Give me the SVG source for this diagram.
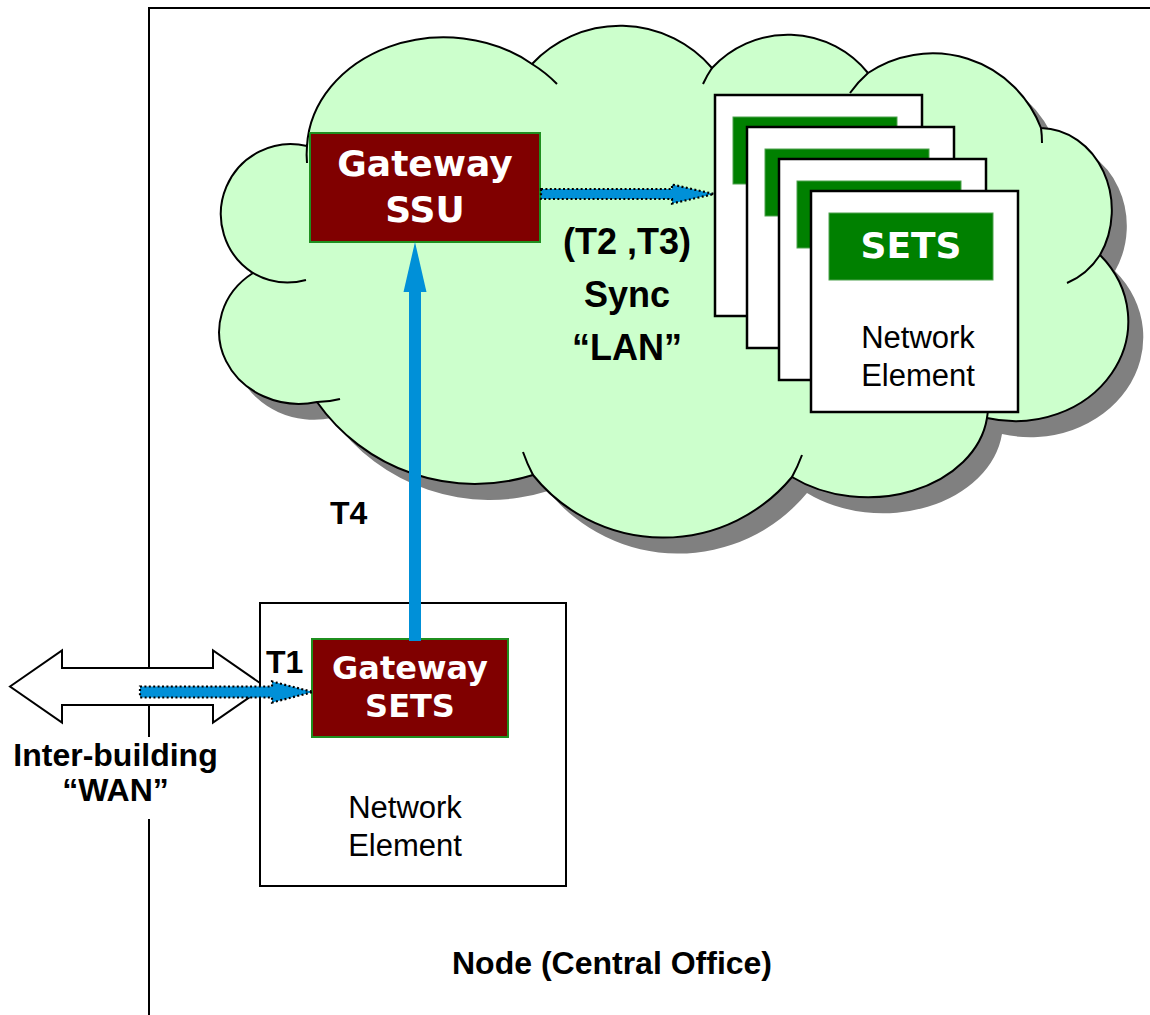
<svg xmlns="http://www.w3.org/2000/svg" width="1150" height="1015" viewBox="0 0 1150 1015">
  <defs>
    <style>
      .frame { fill: none; stroke: #000; stroke-width: 2; }
      .cloud { fill: #CCFFCC; stroke: #000; stroke-width: 2; }
      .cloud-shadow { fill: #808080; stroke: none; }
      .cloud-arc { fill: none; stroke: #000; stroke-width: 2; }
      .card { fill: #fff; stroke: #000; stroke-width: 2.5; }
      .sets-bar { fill: #008000; stroke: #4fa24f; stroke-width: 1; }
      .gw { fill: #800000; stroke: #1f8f1f; stroke-width: 2; }
      .ne-box { fill: #fff; stroke: #000; stroke-width: 2; }
      .flow { fill: #0090D8; stroke: #000; stroke-width: 2.2; stroke-dasharray: 2 2.4; }
      .solid-flow { fill: #0090D8; stroke: none; }
      .wan { fill: #fff; stroke: #000; stroke-width: 2; }
      .lbl { font-family: "Liberation Sans", Arial, sans-serif; font-weight: bold; fill: #000; }
      .boxtxt { font-family: "DejaVu Sans", Verdana, sans-serif; font-weight: bold; fill: #fff; text-anchor: middle; }
      .ne { font-family: "Liberation Sans", Arial, sans-serif; font-size: 31px; fill: #000; text-anchor: middle; }
    </style>
    <path id="cloudShape" d="M 253,273
      A 70 70 0 0 1 307,146
      A 137 114 0 0 1 532,64
      A 121 121 0 0 1 712,68
      A 103 103 0 0 1 868,73
      A 116 116 0 0 1 1041,128
      A 72 82 0 0 1 1100,255
      A 113 100 0 0 1 987,418
      A 120 90 0 0 1 792,477
      A 167 167 0 0 1 533,475
      A 193 193 0 0 1 317,402
      A 80 72 0 0 1 253,273 Z"/>
  </defs>

  <!-- node boundary (central office) -->
  <path class="frame" d="M149,1015 V8 H1150"/>

  <!-- sync LAN cloud -->
  <g id="lan-cloud">
    <use href="#cloudShape" class="cloud-shadow" transform="translate(15,16)"/>
    <use href="#cloudShape" class="cloud"/>
    <path class="cloud-arc" d="M253,273 A 70 70 0 0 0 306,280"/>
    <path class="cloud-arc" d="M307,146 A 137 114 0 0 0 307,163"/>
    <path class="cloud-arc" d="M532,64 A 137 114 0 0 1 557,84"/>
    <path class="cloud-arc" d="M712,68 A 103 103 0 0 0 703,84"/>
    <path class="cloud-arc" d="M868,73 A 116 116 0 0 0 850,93"/>
    <path class="cloud-arc" d="M1041,128 A 116 116 0 0 1 1042,143"/>
    <path class="cloud-arc" d="M1100,255 A 72 82 0 0 1 1067,283"/>
    <path class="cloud-arc" d="M987,418 A 120 90 0 0 0 988,408"/>
    <path class="cloud-arc" d="M792,477 A 167 167 0 0 0 802,455"/>
    <path class="cloud-arc" d="M533,475 A 167 167 0 0 1 523,452"/>
    <path class="cloud-arc" d="M317,402 A 80 72 0 0 0 340,399"/>
  </g>

  <!-- stack of network elements with SETS -->
  <g id="ne-stack">
    <rect class="card" x="715" y="95" width="207" height="221"/>
    <rect class="sets-bar" x="733" y="117" width="164" height="67"/>
    <rect class="card" x="747" y="127" width="207" height="221"/>
    <rect class="sets-bar" x="765" y="149" width="164" height="67"/>
    <rect class="card" x="779" y="159" width="207" height="221"/>
    <rect class="sets-bar" x="797" y="181" width="164" height="67"/>
    <rect class="card" x="811" y="191" width="207" height="221"/>
    <rect class="sets-bar" x="829" y="213" width="164" height="67"/>
    <text class="boxtxt" x="911" y="258" font-size="36">SETS</text>
    <text class="ne" x="918" y="348">Network</text>
    <text class="ne" x="918" y="386">Element</text>
  </g>

  <!-- gateway SSU -->
  <g id="gateway-ssu">
    <rect class="gw" x="310" y="133" width="230" height="109"/>
    <text class="boxtxt" x="425" y="176" font-size="36">Gateway</text>
    <text class="boxtxt" x="425" y="222" font-size="36">SSU</text>
  </g>

  <!-- LAN label -->
  <g id="lan-label" class="lbl" font-size="36" text-anchor="middle">
    <text x="627" y="254">(T2 ,T3)</text>
    <text x="627" y="307">Sync</text>
    <text x="627" y="360">“LAN”</text>
  </g>

  <!-- inter-building WAN -->
  <g id="wan">
    <polygon class="wan" points="10,686.5 62,650.5 62,668 213,668 213,650.5 265,686.5 213,722.5 213,705 62,705 62,722.5"/>
    <rect x="8" y="737" width="215" height="82" fill="#fff"/>
    <text class="lbl" x="115.5" y="766" font-size="32" text-anchor="middle">Inter-building</text>
    <text class="lbl" x="115.5" y="801" font-size="32" text-anchor="middle">“WAN”</text>
  </g>

  <!-- network element with gateway SETS -->
  <g id="gateway-ne">
    <rect class="ne-box" x="260" y="603" width="306" height="283"/>
    <text class="ne" x="405" y="818">Network</text>
    <text class="ne" x="405" y="856">Element</text>
  </g>
  <g id="gateway-sets">
    <rect class="gw" x="312" y="639" width="196" height="98"/>
    <text class="boxtxt" x="410" y="679" font-size="32">Gateway</text>
    <text class="boxtxt" x="410" y="717" font-size="32">SETS</text>
  </g>

  <!-- timing flows -->
  <g id="connectors">
    <polygon class="flow" points="541,189 672,189 672,184.5 714,194 672,203.5 672,199 541,199"/>
    <rect class="solid-flow" x="409" y="291" width="12" height="350"/>
    <polygon class="solid-flow" points="403.5,292 426.5,292 415,242"/>
    <polygon class="flow" points="140,686.5 272,686.5 272,681.5 313,692 272,702.5 272,697.5 140,697.5"/>
  </g>

  <!-- interface labels -->
  <text class="lbl" x="330" y="524" font-size="32">T4</text>
  <text class="lbl" x="266" y="673" font-size="32">T1</text>
  <text class="lbl" x="612" y="974" font-size="32" text-anchor="middle">Node (Central Office)</text>
</svg>
